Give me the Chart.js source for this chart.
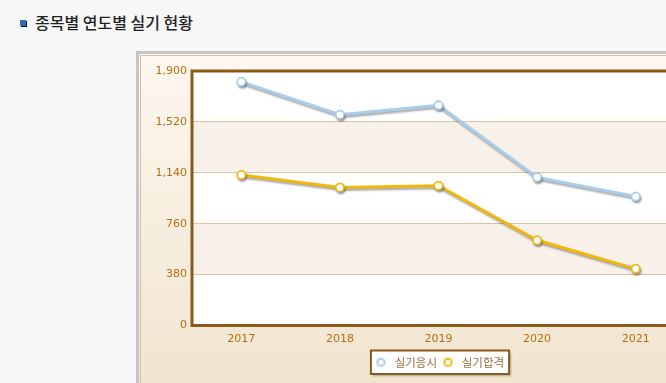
<!DOCTYPE html>
<html>
<head>
<meta charset="utf-8">
<script src="https://cdn.jsdelivr.net/npm/chart.js@4.4.0/dist/chart.umd.min.js"></script>
<style>
html,body{margin:0;padding:0;width:666px;height:383px;overflow:hidden;background:#f7f7f7;}
#title{position:absolute;left:35px;top:10px;font-family:"Noto Sans CJK KR","Noto Sans",sans-serif;font-size:16px;font-weight:500;color:#222;white-space:nowrap;}
#icon{position:absolute;left:20px;top:20px;width:6px;height:6px;background:#2a6fb8;box-shadow:1px 1px 0 #111;border:0;}
#box{position:absolute;left:136px;top:51px;width:640px;height:400px;border-left:3px solid #c6c6c6;border-top:3px solid #c6c6c6;background:linear-gradient(#fdf7ef,#efe1c9);}
#inner{position:absolute;left:1px;top:1px;right:0;bottom:0;border-left:1px solid #d8c2a4;border-top:1px solid #d8c2a4;}
#wrap{position:absolute;left:140px;top:55px;width:600px;height:330px;}
</style>
</head>
<body>
<div id="icon"></div>
<div id="title">종목별 연도별 실기 현황</div>
<div id="box"><div id="inner"></div></div>
<div id="wrap"><canvas id="c"></canvas></div>
<script>
const categories = ['2017','2018','2019','2020','2021'];
const appliedValues = [1819, 1574, 1644, 1106, 963];
const passedValues = [1124, 1031, 1044, 636, 423];
const yTicks = [0, 380, 760, 1140, 1520, 1900];
const seriesNames = ['실기응시', '실기합격'];
const seriesColors = ['#a9cde9', '#f2b70c'];

const tickColor = '#b07010';
const frameColor = '#8b5a1a';
const legendText = '#94703e';

function legendMarker(color) {
  const c = document.createElement('canvas');
  c.width = 11; c.height = 11;
  const g = c.getContext('2d');
  g.beginPath();
  g.arc(5.5, 5.5, 3.6, 0, Math.PI * 2);
  g.fillStyle = '#ffffff'; g.fill();
  g.lineWidth = 2; g.strokeStyle = color; g.stroke();
  return c;
}
const markers = seriesColors.map(legendMarker);

const bandsPlugin = {
  id: 'bands',
  beforeDraw(chart) {
    const {ctx, chartArea: a, scales: {y}} = chart;
    ctx.save();
    ctx.fillStyle = '#ffffff';
    ctx.fillRect(a.left, a.top, a.right - a.left, a.bottom - a.top);
    for (let i = 0; i < yTicks.length - 1; i++) {
      if (i % 2 === 1) {
        const t = y.getPixelForValue(yTicks[i + 1]);
        const b = y.getPixelForValue(yTicks[i]);
        ctx.fillStyle = '#f8f1e9';
        ctx.fillRect(a.left, t, a.right - a.left, b - t);
      }
    }
    const lg = chart.legend;
    if (lg && lg.legendHitBoxes && lg.legendHitBoxes.length) {
      const hb = lg.legendHitBoxes;
      let l = Infinity, r = -Infinity, tp = Infinity, bt = -Infinity;
      hb.forEach(h => { l = Math.min(l, h.left); r = Math.max(r, h.left + h.width); tp = Math.min(tp, h.top); bt = Math.max(bt, h.top + h.height); });
      const x0 = l - 2, x1 = r + 5, y0 = tp - 6, y1 = bt + 6;
      ctx.shadowColor = 'rgba(0,0,0,0.3)';
      ctx.shadowOffsetX = 2; ctx.shadowOffsetY = 2; ctx.shadowBlur = 2;
      ctx.fillStyle = '#ffffff';
      ctx.fillRect(x0, y0, x1 - x0, y1 - y0);
      ctx.shadowColor = 'transparent';
      ctx.strokeStyle = frameColor; ctx.lineWidth = 2;
      ctx.strokeRect(x0, y0, x1 - x0, y1 - y0);
    }
    ctx.restore();
  },
  afterDatasetsDraw(chart) {
    const {ctx, chartArea: a} = chart;
    ctx.save();
    ctx.strokeStyle = frameColor;
    ctx.lineWidth = 3;
    ctx.beginPath();
    ctx.moveTo(a.right, a.top);
    ctx.lineTo(a.left, a.top);
    ctx.lineTo(a.left, a.bottom);
    ctx.lineTo(a.right, a.bottom);
    ctx.stroke();
    ctx.restore();
  },
  beforeDatasetDraw(chart) {
    const ctx = chart.ctx;
    ctx.save();
    ctx.shadowColor = 'rgba(60,60,60,0.45)';
    ctx.shadowOffsetX = 1; ctx.shadowOffsetY = 2; ctx.shadowBlur = 2;
  },
  afterDatasetDraw(chart, args) {
    const ctx = chart.ctx;
    ctx.restore();
    args.meta.data.forEach(p => p.draw(ctx, chart.chartArea));
  }
};

new Chart(document.getElementById('c'), {
  type: 'line',
  data: {
    labels: categories,
    datasets: [
      { label: seriesNames[0], data: appliedValues, borderColor: seriesColors[0], backgroundColor: '#ffffff', borderWidth: 3, pointRadius: 4, pointBorderWidth: 1.5, pointBackgroundColor: '#ffffff', pointBorderColor: seriesColors[0], tension: 0 },
      { label: seriesNames[1], data: passedValues, borderColor: seriesColors[1], backgroundColor: '#ffffff', borderWidth: 3, pointRadius: 4, pointBorderWidth: 1.5, pointBackgroundColor: '#ffffff', pointBorderColor: seriesColors[1], tension: 0 }
    ]
  },
  options: {
    responsive: true,
    maintainAspectRatio: false,
    animation: false,
    devicePixelRatio: 1,
    layout: { padding: { top: 16, right: 55, left: 0, bottom: 7 } },
    plugins: {
      tooltip: { enabled: false },
      legend: {
        position: 'bottom',
        fullSize: false,
        labels: {
          usePointStyle: true, pointStyleWidth: 16, boxHeight: 8,
          color: legendText, font: { family: '"Noto Sans CJK KR", sans-serif', size: 11.5 }, padding: 3,
          generateLabels(chart) {
            return chart.data.datasets.map((d, i) => ({ text: d.label, fillStyle: '#ffffff', strokeStyle: d.borderColor, lineWidth: 2, pointStyle: markers[i], datasetIndex: i, fontColor: legendText }));
          }
        }
      }
    },
    scales: {
      x: {
        offset: true,
        grid: { display: false, drawTicks: false },
        border: { display: false },
        ticks: { color: tickColor, font: { family: '"DejaVu Sans", Verdana, sans-serif', size: 11 }, padding: 7 },
        afterFit(s) { s.height = 28; }
      },
      y: {
        min: 0, max: 1900,
        afterBuildTicks(s) { s.ticks = yTicks.map(v => ({ value: v })); },
        grid: { color: '#d9c3a4', drawTicks: false, lineWidth: ctx => (ctx.tick && (ctx.tick.value === 0 || ctx.tick.value === 1900)) ? 0 : 1 },
        border: { display: false },
        ticks: { color: tickColor, font: { family: '"DejaVu Sans", Verdana, sans-serif', size: 11 }, padding: 5, callback: v => Number(v).toLocaleString('en-US') },
        afterFit(s) { s.width = 52; }
      }
    }
  },
  plugins: [bandsPlugin]
});
</script>
</body>
</html>
